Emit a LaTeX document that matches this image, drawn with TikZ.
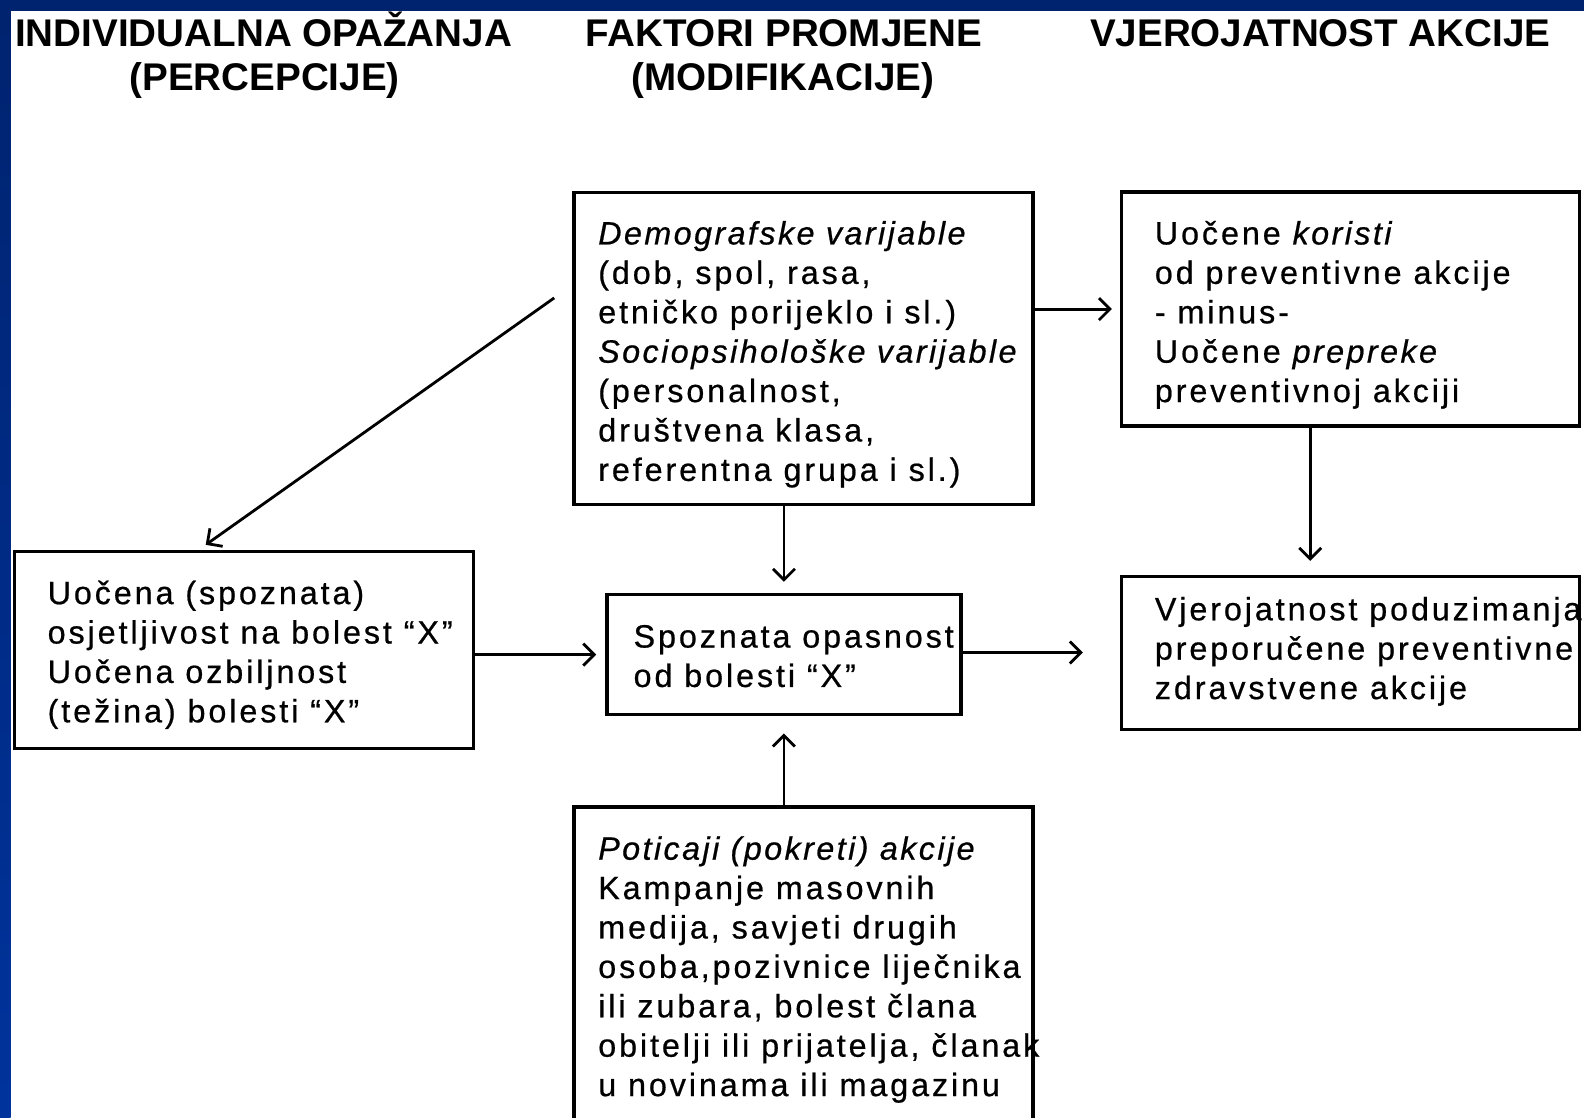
\documentclass[tikz,border=0pt]{standalone}
\usepackage{fontspec}
\setmainfont{Liberation Sans}
\newfontfamily\headfont{Liberation Sans}
\newfontfamily\bodyfont[UprightFeatures={LetterSpace=9,FakeBold=0.6},ItalicFeatures={LetterSpace=7.5,FakeBold=0.6}]{Liberation Sans}
\usetikzlibrary{arrows.meta,calc}
\definecolor{navy}{RGB}{0,35,111}
\definecolor{blueL}{RGB}{0,51,156}
\newcommand\boxtext[1]{\parbox[t]{600pt}{\bodyfont\fontsize{32.3}{39.4}\selectfont #1}}
\begin{document}
\begin{tikzpicture}[x=1.0102pt,y=-1.0102pt,
  box/.style={draw=black, line width=3.4pt, inner sep=0pt, rectangle},
  txt/.style={anchor=base west, inner sep=0pt},
  head/.style={anchor=base, inner sep=0pt, font=\headfont\bfseries\fontsize{38.6}{44}\selectfont},
  arr/.style={line width=2.8pt, -{Straight Barb[length=11pt,width=22pt]}}]
\useasboundingbox (0,0) rectangle (1568,1106.7);
\fill[white] (0,0) rectangle (1568,1106.7);
\fill[navy] (0,0) rectangle (1568,10.5);
\shade[top color=navy, bottom color=blueL] (0,0) rectangle (10.5,1106.7);

% headers
\node[head] (h1a) at (261,46) {INDIVIDUALNA OPAŽANJA};
\node[head] (h1b) at (262,90) {(PERCEPCIJE)};
\node[head] (h2a) at (776,46) {FAKTORI PROMJENE};
\node[head] (h2b) at (775,90) {(MODIFIKACIJE)};
\node[head] (h3) at (1307,46) {VJEROJATNOST AKCIJE};

% boxes
\node[box, minimum width=459pt, minimum height=197pt] (L) at (241.5,643.5) {};
\node[box, minimum width=459pt, minimum height=312pt] (D) at (795.5,345) {};
\node[box, minimum width=354pt, minimum height=120pt] (S) at (776,648) {};
\node[box, minimum width=459pt, minimum height=343pt] (P) at (795.5,968.5) {};
\node[box, minimum width=458pt, minimum height=234pt] (K) at (1337,306) {};
\node[box, minimum width=458pt, minimum height=153pt] (V) at (1337,646.5) {};

% texts
\node[txt] (Lt) at (47,598) {\boxtext{Uočena (spoznata)\\osjetljivost na bolest “X”\\Uočena ozbiljnost\\(težina) bolesti “X”}};
\node[txt] (Dt) at (592,242) {\boxtext{{\itshape Demografske varijable}\\(dob, spol, rasa,\\etničko porijeklo i sl.)\\{\itshape Sociopsihološke varijable}\\(personalnost,\\društvena klasa,\\referentna grupa i sl.)}};
\node[txt] (St) at (627,641) {\boxtext{Spoznata opasnost\\od bolesti “X”}};
\node[txt] (Pt) at (592,851) {\boxtext{{\itshape Poticaji (pokreti) akcije}\\Kampanje masovnih\\medija, savjeti drugih\\osoba,pozivnice liječnika\\ili zubara, bolest člana\\obitelji ili prijatelja, članak\\u novinama ili magazinu}};
\node[txt] (Kt) at (1143,242) {\boxtext{Uočene {\itshape koristi}\\od preventivne akcije\\- minus-\\Uočene {\itshape prepreke}\\preventivnoj akciji}};
\node[txt] (Vt) at (1143,614) {\boxtext{Vjerojatnost poduzimanja\\preporučene preventivne\\zdravstvene akcije}};

% connectors
\coordinate (dstart) at ($(D.north west)+(-18,106)$);
\coordinate (lend) at ($(L.north west)+(191,-5)$);
\coordinate (sout) at ($(S.east)+(119,-2)$);
\draw[arr] (dstart) -- (lend);
\draw[arr] (D.south -| S.north) -- ($(S.north)+(0,-11)$);
\draw[arr] (P.north -| S.south) -- ($(S.south)+(0,17)$);
\draw[arr] (S.west -| L.east) -- ($(S.west)+(-9,0)$);
\draw[arr] ($(S.east)+(0,-2)$) -- (sout);
\draw[arr] (K.west -| D.east) -- ($(K.west)+(-8,0)$);
\draw[arr] ($(K.south)+(-40,0)$) -- ($(V.north)+(-40,-14)$);
\end{tikzpicture}
\end{document}
